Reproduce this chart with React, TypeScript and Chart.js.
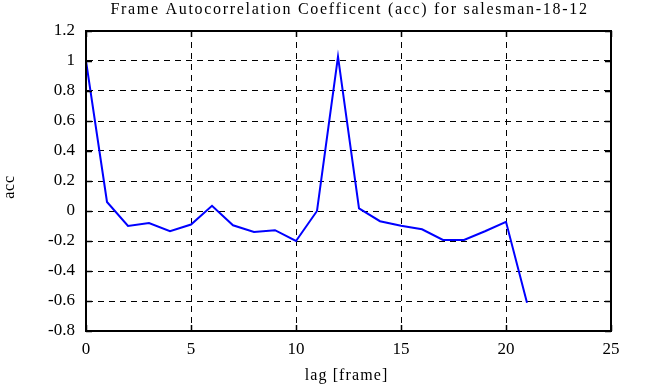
import React, { useEffect, useRef } from "react";
import { Chart, registerables } from "chart.js";

Chart.register(...registerables);

const lags = [0, 1, 2, 3, 4, 5, 6, 7, 8, 9, 10, 11, 12, 13, 14, 15, 16, 17, 18, 19, 20, 21];
const acc = [1.0, 0.06, -0.1, -0.08, -0.135, -0.09, 0.035, -0.095, -0.14, -0.128, -0.2, 0.0, 1.03, 0.018, -0.068, -0.098, -0.122, -0.193, -0.193, -0.135, -0.072, -0.612];
const xTicks = [0, 5, 10, 15, 20, 25];
const yTicks = [-0.8, -0.6, -0.4, -0.2, 0, 0.2, 0.4, 0.6, 0.8, 1, 1.2];
const titleText = "Frame Autocorrelation Coefficent (acc) for salesman-18-12";
const xLabel = "lag [frame]";
const yLabel = "acc";

const FONT = "'Liberation Serif', 'Times New Roman', serif";

const framePlugin = {
  id: "gnuplotFrame",
  afterDatasetsDraw(chart: any) {
    const { ctx, chartArea } = chart;
    const { left, right, top, bottom } = chartArea;
    const xs = chart.scales.x;
    const ys = chart.scales.y;
    const tl = 6;
    ctx.save();
    ctx.strokeStyle = "#000";
    ctx.lineWidth = 1.5;
    ctx.beginPath();
    xTicks.forEach((v) => {
      const px = Math.round(xs.getPixelForValue(v)) + 0.5;
      ctx.moveTo(px, bottom);
      ctx.lineTo(px, bottom - tl);
      ctx.moveTo(px, top);
      ctx.lineTo(px, top + tl);
    });
    yTicks.forEach((v) => {
      const py = Math.round(ys.getPixelForValue(v)) + 0.5;
      ctx.moveTo(left, py);
      ctx.lineTo(left + tl, py);
      ctx.moveTo(right, py);
      ctx.lineTo(right - tl, py);
    });
    ctx.stroke();
    ctx.lineWidth = 2;
    ctx.strokeRect(left, top, right - left, bottom - top);

    // texts
    ctx.fillStyle = "#000";
    const cx = (left + right) / 2;
    ctx.font = "16px " + FONT;
    (ctx as any).letterSpacing = "1.7px";
    ctx.textAlign = "center";
    ctx.textBaseline = "alphabetic";
    ctx.fillText(titleText, cx + 1, 14);

    (ctx as any).letterSpacing = "1.1px";
    ctx.textBaseline = "middle";
    ctx.fillText(xLabel, cx - 2, 376);

    ctx.translate(10, 187);
    ctx.rotate(-Math.PI / 2);
    (ctx as any).letterSpacing = "0.8px";
    ctx.fillText(yLabel, 0, 0);
    (ctx as any).letterSpacing = "0px";
    ctx.restore();
  },
};

export default function App() {
  const ref = useRef<HTMLCanvasElement | null>(null);
  useEffect(() => {
    if (!ref.current) return;
    const chart = new Chart(ref.current, {
      type: "line",
      data: {
        datasets: [
          {
            label: "acc",
            data: lags.map((l, i) => ({ x: l, y: acc[i] })),
            borderColor: "#0000ff",
            backgroundColor: "#0000ff",
            borderWidth: 2,
            pointRadius: 0,
            tension: 0,
            fill: false,
          },
        ],
      },
      options: {
        responsive: false,
        animation: false,
        layout: { padding: { top: 31, right: 35, left: 0, bottom: 0 } },
        plugins: {
          legend: { display: false },
          tooltip: { enabled: false },
          title: { display: false },
        },
        scales: {
          x: {
            type: "linear",
            min: 0,
            max: 25,
            afterBuildTicks: (s: any) => {
              s.ticks = xTicks.map((v) => ({ value: v }));
            },
            afterFit: (s: any) => {
              s.height = 56;
            },
            ticks: {
              color: "#000",
              font: { family: FONT, size: 17 },
              padding: 8,
              maxRotation: 0,
              callback: (v: any) => String(v),
            },
            grid: {
              color: "#000",
              lineWidth: 1,
              drawTicks: false,
            },
            border: { display: true, color: "#000", width: 2, dash: [6, 5] },
            title: { display: false },
          },
          y: {
            type: "linear",
            min: -0.8,
            max: 1.2,
            afterBuildTicks: (s: any) => {
              s.ticks = yTicks.map((v) => ({ value: v }));
            },
            afterFit: (s: any) => {
              s.width = 86;
            },
            ticks: {
              color: "#000",
              font: { family: FONT, size: 17 },
              padding: 11,
              callback: (v: any) => String(Math.round(v * 10) / 10),
            },
            grid: {
              color: "#000",
              lineWidth: 1,
              drawTicks: false,
            },
            border: { display: true, color: "#000", width: 2, dash: [6, 5] },
            title: { display: false },
          },
        },
      },
      plugins: [framePlugin],
    } as any);
    return () => chart.destroy();
  }, []);
  return (
    <div style={{ position: "fixed", left: 0, top: 0, width: 646, height: 387, background: "#fff" }}>
      <canvas ref={ref} width={646} height={387} style={{ display: "block" }} />
    </div>
  );
}
